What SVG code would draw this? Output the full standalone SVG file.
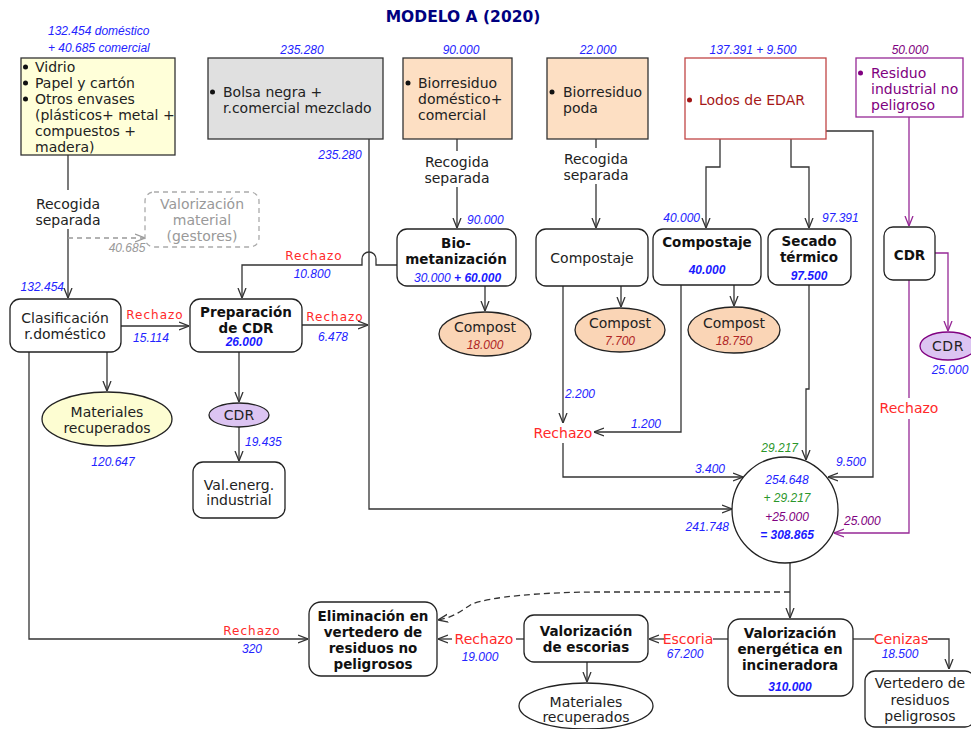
<svg xmlns="http://www.w3.org/2000/svg" width="971" height="729" viewBox="0 0 971 729">
<defs>
<style>
.t{font-family:"DejaVu Sans",Verdana,sans-serif;font-size:14px;fill:#222}
.c{text-anchor:middle}
.bb{font-family:"DejaVu Sans",Verdana,sans-serif;font-size:13.5px;font-weight:bold;fill:#111;text-anchor:middle}
.n{font-family:"Liberation Sans",Arial,sans-serif;font-style:italic;font-size:12px;fill:#2323ff}
.nb{font-family:"Liberation Sans",Arial,sans-serif;font-style:italic;font-weight:bold;font-size:12px;fill:#1a1aff}
.rs{font-family:"DejaVu Sans",Verdana,sans-serif;font-size:12px;letter-spacing:1px;fill:#ff2a2a;text-anchor:middle}
.rr{font-family:"DejaVu Sans",Verdana,sans-serif;font-size:14px;fill:#ff2a2a;text-anchor:middle}
.ln{stroke:#333;stroke-width:1.3;fill:none}
.lp{stroke:#962896;stroke-width:1.3;fill:none}
.box{stroke:#333;stroke-width:1.3}
.rnd{fill:#fff;stroke:#222;stroke-width:1.3}
.peach{fill:#fddfc3}
.comp{fill:#fad5b6;stroke:#222;stroke-width:1.3}
</style>
<marker id="a" viewBox="0 0 10 10" refX="10" refY="5" markerWidth="10" markerHeight="10" markerUnits="userSpaceOnUse" orient="auto"><path d="M0,1 L10,5 L0,9" fill="none" stroke="#333" stroke-width="1.3"/></marker>
<marker id="ap" viewBox="0 0 10 10" refX="10" refY="5" markerWidth="10" markerHeight="10" markerUnits="userSpaceOnUse" orient="auto"><path d="M0,1 L10,5 L0,9" fill="none" stroke="#962896" stroke-width="1.3"/></marker>
<marker id="ag" viewBox="0 0 10 10" refX="10" refY="5" markerWidth="10" markerHeight="10" markerUnits="userSpaceOnUse" orient="auto"><path d="M0,1 L10,5 L0,9" fill="none" stroke="#999" stroke-width="1.3"/></marker>
</defs>
<rect width="971" height="729" fill="#fff"/>
<text x="463" y="22" font-family="DejaVu Sans,Verdana,sans-serif" font-size="15.5" font-weight="bold" fill="#000080" text-anchor="middle">MODELO A (2020)</text>

<g id="connectors">
<path class="ln" d="M68,155 V190"/>
<path class="ln" d="M68,229 V298" marker-end="url(#a)"/>
<path d="M68,238 H145" stroke="#999" stroke-width="1.3" stroke-dasharray="5,4" fill="none" marker-end="url(#ag)"/>
<path class="ln" d="M369,139 V509 H732" marker-end="url(#a)"/>
<path class="ln" d="M457,139 V151"/>
<path class="ln" d="M457,187 V228" marker-end="url(#a)"/>
<path class="ln" d="M596,139 V148"/>
<path class="ln" d="M596,184 V228" marker-end="url(#a)"/>
<path class="ln" d="M720,139 V167 H706 V228" marker-end="url(#a)"/>
<path class="ln" d="M791,139 V167 H809 V228" marker-end="url(#a)"/>
<path class="ln" d="M826,131 H873 V477 H828" marker-end="url(#a)"/>
<path class="lp" d="M909,117 V226" marker-end="url(#ap)"/>
<path class="lp" d="M935,253 H948 V331" marker-end="url(#ap)"/>
<path class="lp" d="M909,280 V398"/>
<path class="lp" d="M909,419 V533 H834" marker-end="url(#ap)"/>
<path class="ln" d="M397,265 H376 V259 A7,7 0 0 0 362,259 V265 H242 V298" marker-end="url(#a)"/>
<path class="ln" d="M485,286 V311" marker-end="url(#a)"/>
<path class="ln" d="M621,286 V307" marker-end="url(#a)"/>
<path class="ln" d="M563,286 V423" marker-end="url(#a)"/>
<path class="ln" d="M563,443 V477 H743" marker-end="url(#a)"/>
<path class="ln" d="M734,285 V306" marker-end="url(#a)"/>
<path class="ln" d="M681,285 V432 H594" marker-end="url(#a)"/>
<path class="ln" d="M809,285 V389 H806 V460" marker-end="url(#a)"/>
<path class="ln" d="M121,326 H189" marker-end="url(#a)"/>
<path class="ln" d="M302,325 H368" marker-end="url(#a)"/>
<path class="ln" d="M107,352 V391" marker-end="url(#a)"/>
<path class="ln" d="M239,352 V402" marker-end="url(#a)"/>
<path class="ln" d="M239,427 V461" marker-end="url(#a)"/>
<path class="ln" d="M29,352 V639 H308" marker-end="url(#a)"/>
<path class="ln" d="M790,563 V618" marker-end="url(#a)"/>
<path class="ln" stroke-dasharray="6,4" d="M790,592 H600 C540,592 490,597 472,604 C462,610 455,617 438,620" marker-end="url(#a)"/>
<path class="ln" d="M728,639 H713"/>
<path class="ln" d="M664,639 H649" marker-end="url(#a)"/>
<path class="ln" d="M524,639 H516"/>
<path class="ln" d="M452,639 H438" marker-end="url(#a)"/>
<path class="ln" d="M587,662 V682" marker-end="url(#a)"/>
<path class="ln" d="M853,639 H874"/>
<path class="ln" d="M928,639 H949 V669" marker-end="url(#a)"/>

<text class="t c" x="68" y="209">Recogida</text>
<text class="t c" x="68" y="225">separada</text>
<text class="n" x="127" y="252" text-anchor="middle" style="fill:#999">40.685</text>
<text class="n" x="64" y="291" text-anchor="end">132.454</text>
<text class="n" x="340" y="159" text-anchor="middle">235.280</text>
<text class="t c" x="457" y="167">Recogida</text>
<text class="t c" x="457" y="183">separada</text>
<text class="n" x="467" y="224">90.000</text>
<text class="t c" x="596" y="164">Recogida</text>
<text class="t c" x="596" y="180">separada</text>
<text class="n" x="700" y="222" text-anchor="end">40.000</text>
<text class="n" x="822" y="222">97.391</text>
<text class="n" x="836" y="466">9.500</text>
<text class="rr" x="909" y="413">Rechazo</text>
<text class="n" x="844" y="525" style="fill:#800080">25.000</text>
<text class="rs" x="314" y="260">Rechazo</text>
<text class="n" x="312" y="278" text-anchor="middle">10.800</text>
<text class="n" x="565" y="398">2.200</text>
<text class="rr" x="563" y="438">Rechazo</text>
<text class="n" x="661" y="428" text-anchor="end">1.200</text>
<text class="n" x="725" y="473" text-anchor="end">3.400</text>
<text class="n" x="798" y="452" text-anchor="end" style="fill:#2a962a">29.217</text>
<text class="n" x="729" y="531" text-anchor="end">241.748</text>
<text class="rs" x="155" y="319">Rechazo</text>
<text class="n" x="151" y="342" text-anchor="middle">15.114</text>
<text class="rs" x="335" y="321">Rechazo</text>
<text class="n" x="333" y="341" text-anchor="middle">6.478</text>
<text class="n" x="113" y="466" text-anchor="middle">120.647</text>
<text class="n" x="245" y="446">19.435</text>
<text class="rs" x="252" y="635">Rechazo</text>
<text class="n" x="252" y="653" text-anchor="middle">320</text>
<text class="rr" x="688" y="644">Escoria</text>
<text class="n" x="685" y="658" text-anchor="middle">67.200</text>
<text class="rr" x="484" y="644">Rechazo</text>
<text class="n" x="480" y="661" text-anchor="middle">19.000</text>
<text class="rr" x="901" y="644">Cenizas</text>
<text class="n" x="900" y="658" text-anchor="middle">18.500</text>
</g>

<g id="n-selectiva">
<rect x="21" y="58" width="154" height="97" fill="#ffffd9" class="box"/>
<text class="n" x="48" y="35">132.454 doméstico</text>
<text class="n" x="48" y="52">+  40.685 comercial</text>
<circle cx="25.5" cy="67" r="2.5" fill="#111"/>
<circle cx="25.5" cy="83" r="2.5" fill="#111"/>
<circle cx="25.5" cy="99" r="2.5" fill="#111"/>
<text class="t" x="35" y="72">Vidrio</text>
<text class="t" x="35" y="88">Papel y cartón</text>
<text class="t" x="35" y="104">Otros envases</text>
<text class="t" x="35" y="120">(plásticos+ metal +</text>
<text class="t" x="35" y="136">compuestos +</text>
<text class="t" x="35" y="152">madera)</text>
</g>

<g id="n-bolsa">
<rect x="208" y="58" width="175" height="81" fill="#e0e0e0" class="box"/>
<text class="n" x="302" y="54" text-anchor="middle">235.280</text>
<circle cx="212.5" cy="92" r="2.5" fill="#111"/>
<text class="t" x="223" y="97">Bolsa negra +</text>
<text class="t" x="223" y="113">r.comercial mezclado</text>
</g>

<g id="n-bio-dom">
<rect x="403" y="58" width="109" height="81" class="box peach"/>
<text class="n" x="461" y="54" text-anchor="middle">90.000</text>
<circle cx="408" cy="83" r="2.5" fill="#111"/>
<text class="t" x="418" y="88">Biorresiduo</text>
<text class="t" x="418" y="104">doméstico+</text>
<text class="t" x="418" y="120">comercial</text>
</g>

<g id="n-bio-poda">
<rect x="547" y="58" width="101" height="81" class="box peach"/>
<text class="n" x="598" y="54" text-anchor="middle">22.000</text>
<circle cx="552" cy="92" r="2.5" fill="#111"/>
<text class="t" x="563" y="97">Biorresiduo</text>
<text class="t" x="563" y="113">poda</text>
</g>

<g id="n-lodos">
<rect x="685" y="58" width="141" height="81" fill="#fff" stroke="#c04545" stroke-width="1.3"/>
<text class="n" x="753" y="54" text-anchor="middle">137.391 +  9.500</text>
<circle cx="689.5" cy="100" r="2.5" fill="#a01515"/>
<text class="t" x="699" y="105" style="fill:#a51818">Lodos de EDAR</text>
</g>

<g id="n-industrial">
<rect x="856" y="58" width="107" height="59" fill="#fff" stroke="#962896" stroke-width="1.3"/>
<text class="n" x="910" y="54" text-anchor="middle" style="fill:#800080">50.000</text>
<circle cx="860.5" cy="73" r="2.5" fill="#800080"/>
<text class="t" x="871" y="78" style="fill:#800080">Residuo</text>
<text class="t" x="871" y="94" style="fill:#800080">industrial no</text>
<text class="t" x="871" y="110" style="fill:#800080">peligroso</text>
</g>

<g id="n-valmat">
<rect x="145" y="192" width="114" height="55" rx="9" fill="#fff" stroke="#aaa" stroke-width="1.3" stroke-dasharray="5,4"/>
<text class="t c" x="202" y="209" style="fill:#999">Valorización</text>
<text class="t c" x="202" y="225" style="fill:#999">material</text>
<text class="t c" x="202" y="241" style="fill:#999">(gestores)</text>
</g>

<g id="n-biomet">
<rect x="397" y="229" width="119" height="57" rx="10" class="rnd"/>
<text class="bb" x="456" y="248">Bio-</text>
<text class="bb" x="456" y="264">metanización</text>
<text x="414" y="282"><tspan class="n">30.000</tspan><tspan class="nb"> +  60.000</tspan></text>
</g>

<g id="n-compostaje1">
<rect x="536" y="229" width="112" height="57" rx="10" class="rnd"/>
<text class="t c" x="592" y="263">Compostaje</text>
</g>

<g id="n-compostaje2">
<rect x="653" y="229" width="108" height="56" rx="10" class="rnd"/>
<text class="bb" x="707" y="247">Compostaje</text>
<text class="nb" x="707" y="274" text-anchor="middle">40.000</text>
</g>

<g id="n-secado">
<rect x="768" y="229" width="83" height="56" rx="10" class="rnd"/>
<text class="bb" x="809" y="246">Secado</text>
<text class="bb" x="809" y="262">térmico</text>
<text class="nb" x="809" y="280" text-anchor="middle">97.500</text>
</g>

<g id="n-cdr-right">
<rect x="884" y="227" width="51" height="53" rx="9" class="rnd"/>
<text class="bb" x="909.5" y="260">CDR</text>
</g>

<g id="n-cdr-right-ell">
<ellipse cx="948" cy="346" rx="28" ry="14" fill="#dcc4f2" stroke="#800080" stroke-width="1.3"/>
<text class="t c" x="948" y="351" letter-spacing="0.5">CDR</text>
<text class="n" x="950" y="374" text-anchor="middle">25.000</text>
</g>

<g id="n-compost1">
<ellipse cx="485" cy="334" rx="46" ry="22" class="comp"/>
<text class="t c" x="485" y="332">Compost</text>
<text class="n" x="485" y="349" text-anchor="middle" style="fill:#b02525">18.000</text>
</g>
<g id="n-compost2">
<ellipse cx="620" cy="330" rx="45" ry="22" class="comp"/>
<text class="t c" x="620" y="328">Compost</text>
<text class="n" x="620" y="345" text-anchor="middle" style="fill:#b02525">7.700</text>
</g>
<g id="n-compost3">
<ellipse cx="734" cy="330" rx="46" ry="23" class="comp"/>
<text class="t c" x="734" y="328">Compost</text>
<text class="n" x="734" y="345" text-anchor="middle" style="fill:#b02525">18.750</text>
</g>

<g id="n-clasif">
<rect x="10" y="299" width="111" height="53" rx="10" class="rnd"/>
<text class="t c" x="65" y="323">Clasificación</text>
<text class="t c" x="65" y="339">r.doméstico</text>
</g>

<g id="n-prep">
<rect x="190" y="299" width="112" height="53" rx="10" class="rnd"/>
<text class="bb" x="246" y="317" font-size="14">Preparación</text>
<text class="bb" x="246" y="333" font-size="14">de CDR</text>
<text class="nb" x="244" y="346" text-anchor="middle">26.000</text>
</g>

<g id="n-matrec1">
<ellipse cx="107" cy="419" rx="65" ry="27" fill="#fdfdd2" stroke="#222" stroke-width="1.3"/>
<text class="t c" x="107" y="417">Materiales</text>
<text class="t c" x="107" y="433">recuperados</text>
</g>

<g id="n-cdr-ell">
<ellipse cx="239" cy="415" rx="30" ry="12" fill="#dcc4f2" stroke="#222" stroke-width="1.3"/>
<text class="t c" x="239" y="420">CDR</text>
</g>

<g id="n-valind">
<rect x="193" y="462" width="92" height="56" rx="10" class="rnd"/>
<text class="t c" x="239" y="490">Val.energ.</text>
<text class="t c" x="239" y="505">industrial</text>
</g>

<g id="n-mezcla">
<circle cx="785" cy="510" r="53" fill="#fff" stroke="#222" stroke-width="1.3"/>
<text class="n" x="787" y="484" text-anchor="middle">254.648</text>
<text class="n" x="787" y="502" text-anchor="middle" style="fill:#2a962a">+ 29.217</text>
<text class="n" x="787" y="521" text-anchor="middle" style="fill:#800080">+25.000</text>
<text class="nb" x="787" y="539" text-anchor="middle">= 308.865</text>
</g>

<g id="n-eliminacion">
<rect x="309" y="602" width="128" height="74" rx="12" class="rnd"/>
<text class="bb" x="373" y="621">Eliminación en</text>
<text class="bb" x="373" y="637">vertedero de</text>
<text class="bb" x="373" y="653">residuos no</text>
<text class="bb" x="373" y="669">peligrosos</text>
</g>

<g id="n-escorias">
<rect x="524" y="615" width="124" height="47" rx="10" class="rnd"/>
<text class="bb" x="586" y="636">Valorización</text>
<text class="bb" x="586" y="652">de escorias</text>
</g>

<g id="n-matrec2">
<ellipse cx="586" cy="706" rx="67" ry="23" fill="#fff" stroke="#222" stroke-width="1.3"/>
<text class="t c" x="586" y="707">Materiales</text>
<text class="t c" x="586" y="722">recuperados</text>
</g>

<g id="n-incineradora">
<rect x="728" y="619" width="125" height="77" rx="12" class="rnd"/>
<text class="bb" x="790" y="638">Valorización</text>
<text class="bb" x="790" y="654">energética en</text>
<text class="bb" x="790" y="670">incineradora</text>
<text class="nb" x="790" y="691" text-anchor="middle">310.000</text>
</g>

<g id="n-peligrosos">
<rect x="865" y="671" width="110" height="56" rx="10" class="rnd"/>
<text class="t c" x="920" y="688">Vertedero de</text>
<text class="t c" x="920" y="705">residuos</text>
<text class="t c" x="920" y="721">peligrosos</text>
</g>
</svg>
